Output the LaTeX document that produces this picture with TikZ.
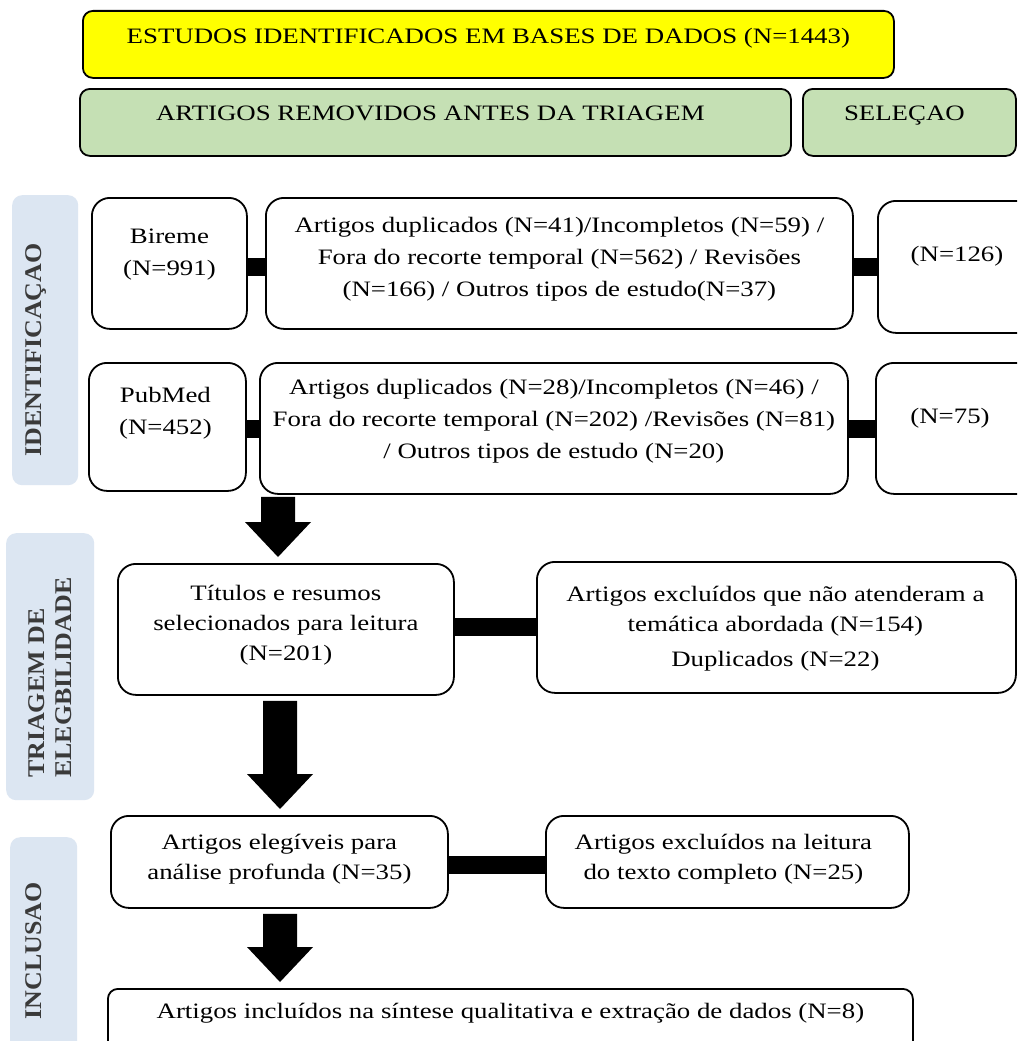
\documentclass[tikz,border=0pt]{standalone}
\usepackage{fontspec}
\setmainfont{Liberation Serif}[FakeStretch=1.22]
\newfontfamily\sidefont{Liberation Serif}[FakeStretch=1.08]
\usetikzlibrary{calc}
\definecolor{ylw}{HTML}{FFFF00}
\definecolor{grn}{HTML}{C5E0B4}
\definecolor{sidebg}{HTML}{DCE6F2}
\definecolor{sidetx}{HTML}{3A3A3A}
\newcommand{\blockarrow}[3]{%
  \path (#1 |- #2) ++(0,5) coordinate (ba-s) (#1 |- #3) ++(0,-6) coordinate (ba-e);
  \fill[black] ($(ba-s)+(-17,0)$) -- ($(ba-s)+(17,0)$) -- ($(ba-e)+(17,-35)$) -- ($(ba-e)+(33,-35)$)
    -- (ba-e) -- ($(ba-e)+(-33,-35)$) -- ($(ba-e)+(-17,-35)$) -- cycle;}
\begin{document}
\begin{tikzpicture}[x=1pt,y=-1pt,
  box/.style={draw=black, line width=1.8pt, rounded corners=18pt, fill=white, anchor=north west, inner sep=0pt},
  hdr/.style={box, rounded corners=10pt},
  txt/.style={align=center, font=\fontsize{22}{32}\selectfont, inner sep=0pt},
  txtb/.style={align=center, font=\fontsize{22}{30}\selectfont, inner sep=0pt},
  side/.style={fill=sidebg, rounded corners=10pt, anchor=north west, inner sep=0pt},
  sidetxt/.style={rotate=90, font=\sidefont\bfseries\fontsize{24}{27}\selectfont, text=sidetx, inner sep=0pt},
  bar/.style={line width=18pt, black}]
\useasboundingbox (0,0) rectangle (1017,1041);
\fill[white] (0,0) rectangle (1017,1041);
\clip (0,0) rectangle (1017,1041);

% header boxes
\node[hdr, fill=ylw, minimum width=811pt, minimum height=67pt] (top) at (82,10) {};
\node[txt] (top-t) at ($(top.north)+(0,28)$) {ESTUDOS IDENTIFICADOS EM BASES DE DADOS (N=1443)};
\node[hdr, fill=grn, minimum width=711pt, minimum height=67pt] (remov) at (79,88) {};
\node[txt] (remov-t) at ($(remov.north)+(-5,25)$) {ARTIGOS REMOVIDOS ANTES DA TRIAGEM};
\node[hdr, fill=grn, minimum width=213pt, minimum height=67pt] (selec) at (802,88) {};
\node[txt] (selec-t) at ($(selec.north)+(-5,28)$) {SELEÇAO};

% side labels
\node[side, minimum width=66pt, minimum height=290pt] (sideA) at (12,195) {};
\node[sidetxt] (sideA-t) at (36,350) {IDENTIFICAÇAO};
\node[side, minimum width=88pt, minimum height=267pt] (sideB) at (6,533) {};
\node[sidetxt, align=left, anchor=west] (sideB-t) at (50,778) {TRIAGEM DE\\ELEGBILIDADE};
\node[side, minimum width=67pt, minimum height=260pt] (sideC) at (10,837) {};
\node[sidetxt] (sideC-t) at (34,951) {INCLUSAO};

% bar heights
\coordinate (by1) at (0,267);
\coordinate (by2) at (0,429);
\coordinate (by3) at (0,627);
\coordinate (by4) at (0,865);

% identification row 1
\node[box, minimum width=155pt, minimum height=131pt] (bireme) at (91,197) {};
\node[box, minimum width=587pt, minimum height=131pt] (mid1) at (265,197) {};
\node[box, minimum width=200pt, minimum height=132pt] (right1) at (877,200) {};
% identification row 2
\node[box, minimum width=157pt, minimum height=128pt] (pubmed) at (88,362) {};
\node[box, minimum width=588pt, minimum height=131pt] (mid2) at (259,362) {};
\node[box, minimum width=200pt, minimum height=131pt] (right2) at (875,362) {};
% screening
\node[box, minimum width=336pt, minimum height=131pt] (titulos) at (117,563) {};
\node[box, minimum width=479pt, minimum height=131pt] (excl1) at (536,561) {};
% inclusion
\node[box, minimum width=337pt, minimum height=92pt] (eleg) at (110,815) {};
\node[box, minimum width=363pt, minimum height=92pt] (excl2) at (545,815) {};
\node[box, rounded corners=10pt, minimum width=805pt, minimum height=90pt] (final) at (107,988) {};

% bars
\draw[bar] (bireme.east |- by1) -- (mid1.west |- by1);
\draw[bar] (mid1.east |- by1) -- (right1.west |- by1);
\draw[bar] (pubmed.east |- by2) -- (mid2.west |- by2);
\draw[bar] (mid2.east |- by2) -- (right2.west |- by2);
\draw[bar] (titulos.east |- by3) -- (excl1.west |- by3);
\draw[bar] (eleg.east |- by4) -- (excl2.west |- by4);

% texts
\node[txt] (bireme-t) at ($(bireme.north)+(0,58)$) {Bireme\\(N=991)};
\node[txt] (mid1-t) at ($(mid1.north)+(0,62)$) {Artigos duplicados (N=41)/Incompletos (N=59) /\\Fora do recorte temporal (N=562) / Revisões\\(N=166) / Outros tipos de estudo(N=37)};
\node[txt] (right1-t) at ($(right1.north west)+(80,56)$) {(N=126)};
\node[txt] (pubmed-t) at ($(pubmed.north)+(-2,51)$) {PubMed\\(N=452)};
\node[txt] (mid2-t) at ($(mid2.north)+(0,59)$) {Artigos duplicados (N=28)/Incompletos (N=46) /\\Fora do recorte temporal (N=202) /Revisões (N=81)\\/ Outros tipos de estudo (N=20)};
\node[txt] (right2-t) at ($(right2.north west)+(75,56)$) {(N=75)};
\node[txtb] (titulos-t) at ($(titulos.north)+(0,62)$) {Títulos e resumos\\selecionados para leitura\\(N=201)};
\node[txtb] (excl1-t) at ($(excl1.north)+(-1,68)$) {Artigos excluídos que não atenderam a\\temática abordada (N=154)\\[5pt]Duplicados (N=22)};
\node[txtb] (eleg-t) at ($(eleg.north)+(0,44)$) {Artigos elegíveis para\\análise profunda (N=35)};
\node[txtb] (excl2-t) at ($(excl2.north)+(-4,44)$) {Artigos excluídos na leitura\\do texto completo (N=25)};
\node[txt] (final-t) at ($(final.north)+(0,25)$) {Artigos incluídos na síntese qualitativa e extração de dados (N=8)};

% block arrows
\coordinate (ax1) at (278,0);
\coordinate (ax2) at (280,0);
\blockarrow{ax1}{pubmed.south}{titulos.north}
\blockarrow{ax2}{titulos.south}{eleg.north}
\blockarrow{ax2}{eleg.south}{final.north}
\end{tikzpicture}
\end{document}
